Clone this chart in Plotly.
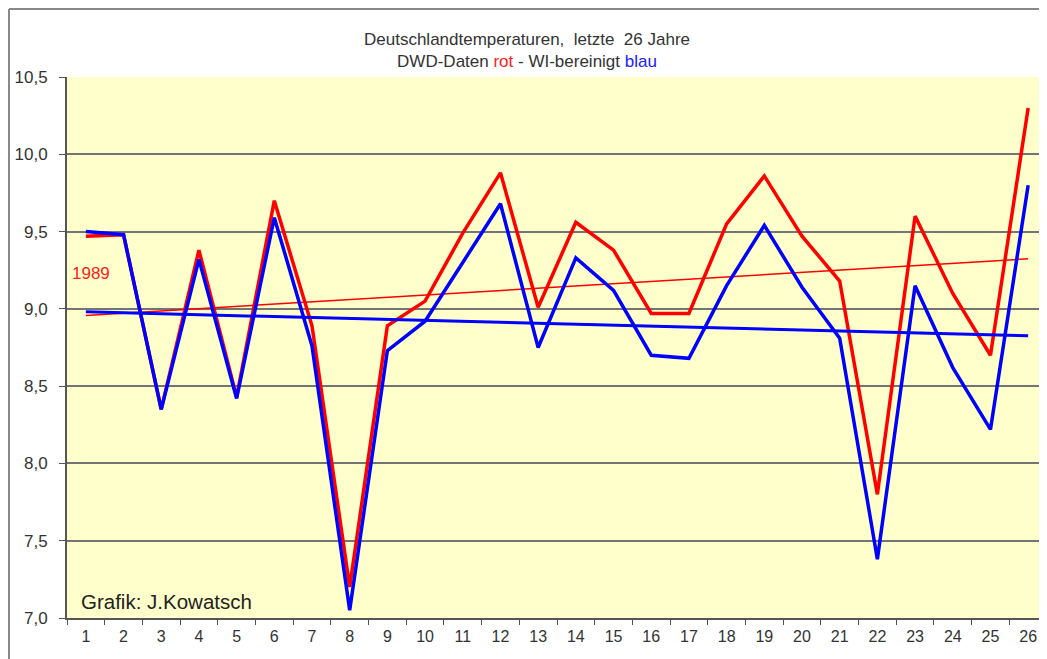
import numpy as np
import plotly.graph_objects as go

years = [str(i) for i in range(1, 27)]
dwd_rot = [9.47, 9.48, 8.35, 9.38, 8.43, 9.70, 8.89, 7.20, 8.89, 9.05,
           9.49, 9.88, 9.01, 9.56, 9.38, 8.97, 8.97, 9.55, 9.86, 9.47,
           9.18, 7.80, 9.60, 9.10, 8.70, 10.30]
wi_blau = [9.50, 9.48, 8.35, 9.32, 8.42, 9.59, 8.76, 7.05, 8.73, 8.92,
           9.30, 9.68, 8.75, 9.33, 9.12, 8.70, 8.68, 9.15, 9.54, 9.14,
           8.81, 7.38, 9.15, 8.62, 8.22, 9.80]
y_ticks = [7.0, 7.5, 8.0, 8.5, 9.0, 9.5, 10.0, 10.5]

xi = np.arange(1, 27)
def trend(v):
    k, d = np.polyfit(xi, v, 1)
    return [k * 1 + d, k * 26 + d]

tr_rot = trend(dwd_rot)
tr_blau = trend(wi_blau)

fig = go.Figure()
fig.add_trace(go.Scatter(x=years, y=dwd_rot, mode="lines",
                         line=dict(color="#ff0000", width=3.5), hoverinfo="skip"))
fig.add_trace(go.Scatter(x=[years[0], years[-1]], y=tr_rot, mode="lines",
                         line=dict(color="#ff0000", width=1.5), hoverinfo="skip"))
fig.add_trace(go.Scatter(x=years, y=wi_blau, mode="lines",
                         line=dict(color="#0000ff", width=3.5), hoverinfo="skip"))
fig.add_trace(go.Scatter(x=[years[0], years[-1]], y=tr_blau, mode="lines",
                         line=dict(color="#0000ff", width=3), hoverinfo="skip"))

W, H = 1039, 651
L, T, B = 59, 69, 41
PW, PH = W - L, H - T - B

fig.update_layout(
    width=W, height=H,
    margin=dict(l=L, r=0, t=T, b=B),
    paper_bgcolor="white", plot_bgcolor="#ffffcc",
    showlegend=False,
    separators=",.",
    font=dict(family="Liberation Sans, Arial", color="#333333", size=16),
)
fig.update_xaxes(type="category", range=[-0.5, 25.5], tickson="boundaries",
                 ticks="outside", ticklen=5, tickcolor="#555555",
                 showline=True, linecolor="#555555", linewidth=2,
                 showgrid=False, ticklabelstandoff=3,
                 tickfont=dict(size=16, color="#333333"))
fig.update_yaxes(range=[7.0, 10.5], tickvals=y_ticks, tickformat=".1f",
                 ticks="outside", ticklen=6, tickcolor="#555555",
                 showline=True, linecolor="#555555", linewidth=2,
                 showgrid=True, gridcolor="#747474", gridwidth=2,
                 zeroline=False, ticklabelstandoff=8,
                 tickfont=dict(size=17, color="#333333"))

fig.add_annotation(
    xref="paper", yref="paper", x=(527 - 8 - L) / PW, y=1 + (T - 20) / PH,
    yanchor="top", showarrow=False, align="center",
    text="Deutschlandtemperaturen,  letzte  26 Jahre<br>DWD-Daten <span style='color:#ff2020'>rot</span> - WI-bereinigt <span style='color:#2020ff'>blau</span>",
    font=dict(size=17, color="#333333"),
)
fig.add_annotation(xref="paper", yref="y", x=0.003, y=9.23, xanchor="left",
                   showarrow=False, text="1989",
                   font=dict(size=17, color="#ff2020"))
fig.add_annotation(xref="paper", yref="paper", x=0.012, y=0.006, xanchor="left",
                   yanchor="bottom", showarrow=False, text="Grafik: J.Kowatsch",
                   font=dict(size=20.5, color="#222222"))

# outer frame lines
fig.add_shape(type="line", xref="paper", yref="paper", x0=-(L - 1) / PW, x1=1.0,
              y0=1 + (T - 1) / PH, y1=1 + (T - 1) / PH,
              line=dict(color="#888888", width=2))
fig.add_shape(type="line", xref="paper", yref="paper", x0=-(L - 1) / PW, x1=-(L - 1) / PW,
              y0=-B / PH, y1=1 + (T - 1) / PH, line=dict(color="#888888", width=2))

fig.write_html("out.html")
